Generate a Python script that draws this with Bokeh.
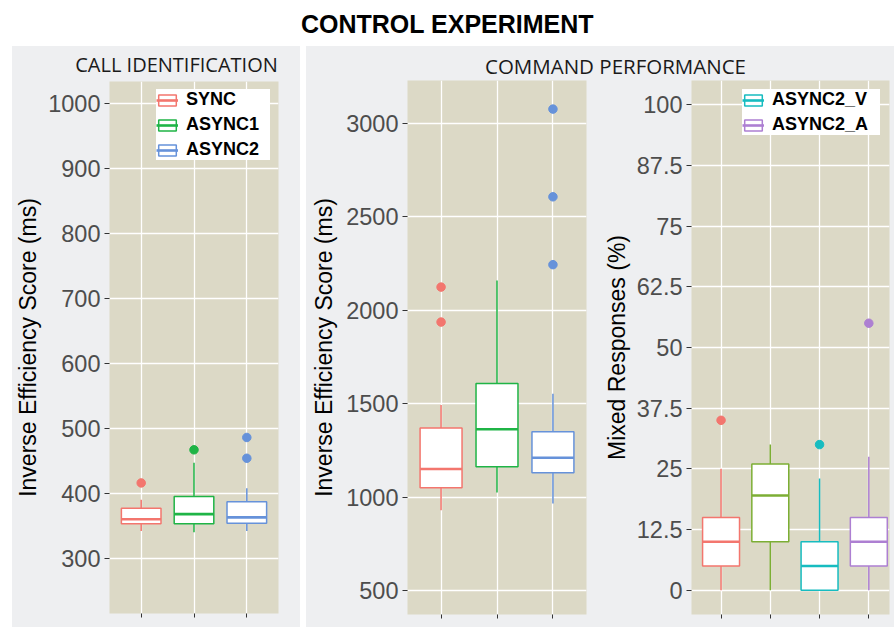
import numpy as np
from bokeh.plotting import figure
from bokeh.models import (Range1d, FixedTicker, ColumnDataSource, Legend, LegendItem,
                          Label, CustomJSTickFormatter, Spacer)
from bokeh.layouts import row, column
from bokeh.embed import file_html
from bokeh.resources import INLINE

# ---------------- data ----------------
call_groups = ["SYNC", "ASYNC1", "ASYNC2"]
call_lower = [342, 340, 342]
call_q1 = [353, 353, 354]
call_median = [360, 368, 363]
call_q3 = [377, 395, 387]
call_upper = [390, 447, 408]
call_outlier_group = ["SYNC", "ASYNC1", "ASYNC2", "ASYNC2"]
call_outlier_value = [416, 467, 454, 486]
call_ticks = [300, 400, 500, 600, 700, 800, 900, 1000]

cmd_groups = ["SYNC", "ASYNC1", "ASYNC2"]
cmd_lower = [930, 1025, 966]
cmd_q1 = [1050, 1162, 1130]
cmd_median = [1150, 1363, 1210]
cmd_q3 = [1369, 1607, 1349]
cmd_upper = [1493, 2159, 1553]
cmd_outlier_group = ["SYNC", "SYNC", "ASYNC2", "ASYNC2", "ASYNC2"]
cmd_outlier_value = [1936, 2123, 2243, 2606, 3075]
cmd_ticks = [500, 1000, 1500, 2000, 2500, 3000]

mixed_groups = ["SYNC", "ASYNC1", "ASYNC2_V", "ASYNC2_A"]
mixed_lower = [0, 0, 0, 0]
mixed_q1 = [5, 10, 0, 5]
mixed_median = [10, 19.5, 5, 10]
mixed_q3 = [15, 26, 10, 15]
mixed_upper = [25, 30, 23, 27.5]
mixed_outlier_group = ["SYNC", "ASYNC2_V", "ASYNC2_A"]
mixed_outlier_value = [35, 30, 55]
mixed_ticks = [0, 12.5, 25, 37.5, 50, 62.5, 75, 87.5, 100]

colors3 = ["#f3766e", "#1fb446", "#6692da"]
colors4 = ["#f3766e", "#7cae34", "#17bcc0", "#ad7fd2"]

# ---------------- style ----------------
PANEL = "#eeeff1"
TAN = "#dcd9c6"
TICK_FONT = "Liberation Sans"


def panel_fig(width, height, bl, br, bt, bb, xr, yr, ticks, ylabel, label_standoff):
    p = figure(width=width, height=height, x_range=Range1d(*xr), y_range=Range1d(*yr),
               output_backend="svg", toolbar_location=None, frame_align=False,
               min_border_left=bl, min_border_right=br, min_border_top=bt, min_border_bottom=bb)
    p.background_fill_color = TAN
    p.border_fill_color = PANEL
    p.outline_line_color = None
    # y axis
    p.yaxis.ticker = FixedTicker(ticks=ticks)
    p.yaxis.formatter = CustomJSTickFormatter(code="return String(tick)")
    p.yaxis.axis_line_color = None
    p.yaxis.major_tick_line_color = "#333333"
    p.yaxis.major_tick_out = 5
    p.yaxis.major_tick_in = 0
    p.yaxis.minor_tick_line_color = None
    p.yaxis.major_label_text_font = TICK_FONT
    p.yaxis.major_label_text_font_size = "23.5px"
    p.yaxis.major_label_text_color = "#4d4d4d"
    p.yaxis.major_label_standoff = 4
    p.yaxis.axis_label = ylabel
    p.yaxis.axis_label_text_font = TICK_FONT
    p.yaxis.axis_label_text_font_size = "23px"
    p.yaxis.axis_label_text_font_style = "normal"
    p.yaxis.axis_label_text_color = "black"
    p.yaxis.axis_label_standoff = label_standoff
    # x axis: tick marks only
    p.xaxis.axis_line_color = None
    p.xaxis.major_tick_line_color = "#333333"
    p.xaxis.major_tick_out = 4
    p.xaxis.major_tick_in = 0
    p.xaxis.minor_tick_line_color = None
    p.xaxis.major_label_text_color = None
    p.xaxis.major_label_text_font_size = "1px"
    p.xaxis.major_label_standoff = 0
    # grid
    p.grid.grid_line_color = "white"
    p.grid.grid_line_width = 1.3
    return p


def boxplot(p, groups, lower, q1, med, q3, upper, og, ov, colors, width=0.75):
    x = np.arange(len(groups), dtype=float)
    p.xaxis.ticker = FixedTicker(ticks=list(x))
    src = ColumnDataSource(dict(x=x, left=x - width / 2, right=x + width / 2,
                                lower=lower, q1=q1, med=med, q3=q3, upper=upper,
                                color=colors[:len(groups)]))
    p.segment(x0="x", x1="x", y0="q3", y1="upper", source=src, line_color="color", line_width=1.5)
    p.segment(x0="x", x1="x", y0="lower", y1="q1", source=src, line_color="color", line_width=1.5)
    box = p.vbar(x="x", width=width, bottom="q1", top="q3", source=src,
                 fill_color="white", line_color="color", line_width=1.5)
    med_r = p.segment(x0="left", x1="right", y0="med", y1="med", source=src,
                      line_color="color", line_width=2.6)
    ox = [float(groups.index(g)) for g in og]
    oc = [colors[groups.index(g)] for g in og]
    p.scatter(x=ox, y=ov, color=oc, size=8.5)
    return box, med_r


def add_legend(p, groups, idxs, box, med_r, label_width, margin):
    items = [LegendItem(label=groups[i], renderers=[box, med_r], index=i) for i in idxs]
    lg = Legend(items=items, location="top_right")
    lg.label_text_font = TICK_FONT
    lg.label_text_font_style = "bold"
    lg.label_text_font_size = "18px"
    lg.label_text_color = "black"
    lg.glyph_width = 22
    lg.glyph_height = 14
    lg.label_height = 20
    lg.label_width = label_width
    lg.spacing = 4
    lg.padding = 6
    lg.margin = margin
    lg.label_standoff = 8
    lg.border_line_color = None
    lg.background_fill_color = "white"
    lg.background_fill_alpha = 1
    p.add_layout(lg)


def text_fig(width, height, bg, text, x, y, font, size, style, color):
    p = figure(width=width, height=height, x_range=Range1d(0, width), y_range=Range1d(0, height),
               output_backend="svg", toolbar_location=None, x_axis_location=None,
               y_axis_location=None, frame_align=False, min_border_left=0, min_border_right=0,
               min_border_top=0, min_border_bottom=0)
    p.outline_line_color = None
    p.background_fill_color = bg
    p.border_fill_color = bg
    p.grid.visible = False
    p.add_layout(Label(x=x, y=y, text=text, text_align="center", text_baseline="middle",
                       text_font=font, text_font_size=size, text_font_style=style,
                       text_color=color))
    return p


# ---------------- figures ----------------
main_title = text_fig(894, 46, "white", "CONTROL EXPERIMENT", 447, 23,
                      TICK_FONT, "25px", "bold", "black")

left_title = text_fig(288, 35, PANEL, "CALL IDENTIFICATION", 164, 17,
                      "Open Sans", "20px", "normal", "#1a1a1a")
left_fig = panel_fig(288, 546, 94, 22, 0, 14, (-0.6, 2.6), (215, 1034), call_ticks,
                     "Inverse Efficiency Score (ms)", 4)
b, m = boxplot(left_fig, call_groups, call_lower, call_q1, call_median, call_q3, call_upper,
               call_outlier_group, call_outlier_value, colors3)
add_legend(left_fig, call_groups, [0, 1, 2], b, m, 84, 8)

right_title = text_fig(588, 34, PANEL, "COMMAND PERFORMANCE", 309, 15,
                       "Open Sans", "20.5px", "normal", "#1a1a1a")
mid_fig = panel_fig(294, 547, 101, 14, 0, 13, (-0.6, 2.6), (372, 3228), cmd_ticks,
                    "Inverse Efficiency Score (ms)", 6)
boxplot(mid_fig, cmd_groups, cmd_lower, cmd_q1, cmd_median, cmd_q3, cmd_upper,
        cmd_outlier_group, cmd_outlier_value, colors3)

right_fig = panel_fig(294, 547, 83, 5, 0, 13, (-0.6, 3.42), (-5, 105), mixed_ticks,
                      "Mixed Responses (%)", 4)
b2, m2 = boxplot(right_fig, mixed_groups, mixed_lower, mixed_q1, mixed_median, mixed_q3,
                 mixed_upper, mixed_outlier_group, mixed_outlier_value, colors4)
add_legend(right_fig, mixed_groups, [2, 3], b2, m2, 108, 9)

left_col = column(left_title, left_fig, styles={"background-color": PANEL})
right_col = column(right_title, row(mid_fig, right_fig, styles={"background-color": PANEL}),
                   styles={"background-color": PANEL})
body = row(Spacer(width=12, height=581), left_col, Spacer(width=6, height=581), right_col)
page = column(main_title, body)

open("out.html", "w").write(file_html(page, INLINE))
